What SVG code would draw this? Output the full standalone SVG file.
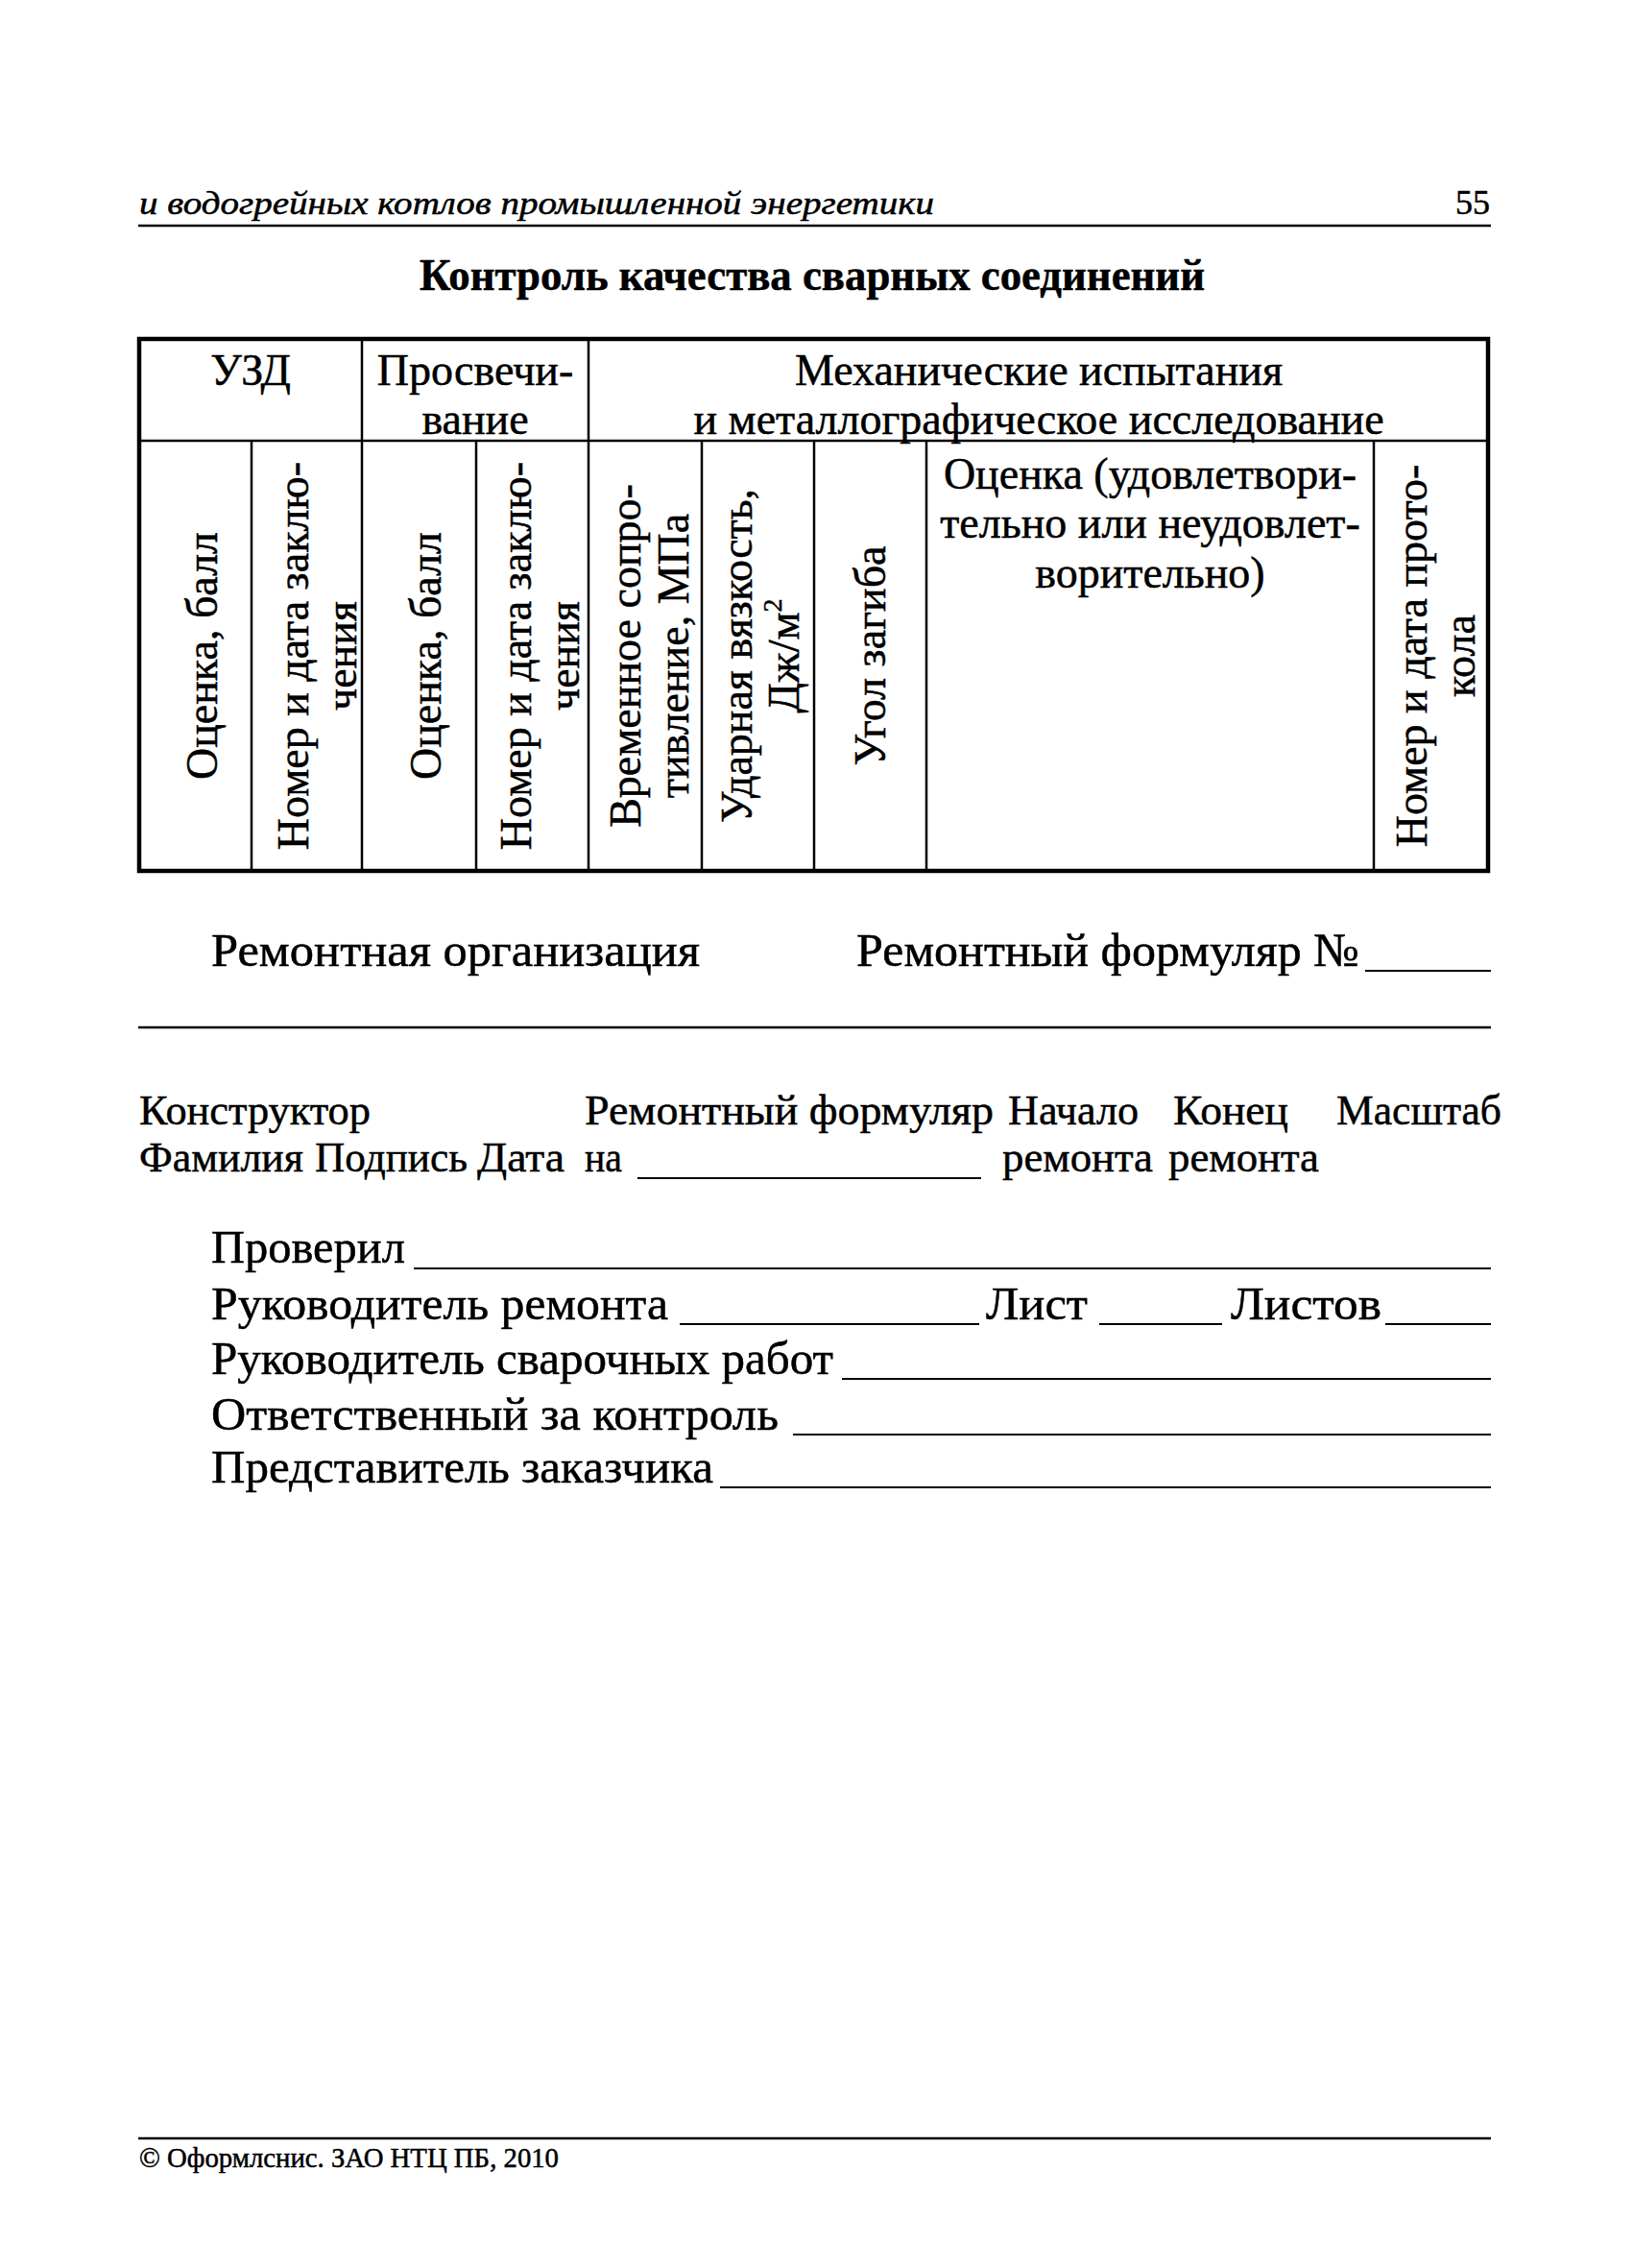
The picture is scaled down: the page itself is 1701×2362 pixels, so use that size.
<svg xmlns="http://www.w3.org/2000/svg" width="1701" height="2362" viewBox="0 0 1701 2362">
<style>
.t{font-family:"Liberation Serif","Times New Roman",serif;fill:#000;stroke:#000;stroke-width:0.5}
.tb{font-size:46px}
.bt{font-size:49.5px}
.sm{font-size:44.5px}
.c{text-anchor:middle}
.ln{stroke:#000;stroke-width:2.5;fill:none}
.th{stroke:#000;stroke-width:4.5;fill:none}
.ul{stroke:#000;stroke-width:2.2;fill:none}
</style>
<rect width="1701" height="2362" fill="#fff"/>
<g id="page-header">
<text class="t" x="145" y="223" font-size="34" font-style="italic" textLength="828" lengthAdjust="spacingAndGlyphs">и водогрейных котлов промышленной энергетики</text>
<text class="t" x="1552" y="223" font-size="36" text-anchor="end">55</text>
<line class="ln" x1="144" y1="235" x2="1553" y2="235"/>
</g>
<g id="title">
<text class="t c" x="846" y="302" font-size="46" font-weight="bold" textLength="818" lengthAdjust="spacingAndGlyphs">Контроль качества сварных соединений</text>
</g>
<g id="table">
<rect class="th" x="145" y="353" width="1405" height="554"/>
<line class="ln" x1="145" y1="459" x2="1550" y2="459"/>
<line class="ln" x1="377" y1="353" x2="377" y2="907"/>
<line class="ln" x1="613" y1="353" x2="613" y2="907"/>
<line class="ln" x1="262" y1="459" x2="262" y2="907"/>
<line class="ln" x1="496" y1="459" x2="496" y2="907"/>
<line class="ln" x1="731" y1="459" x2="731" y2="907"/>
<line class="ln" x1="848" y1="459" x2="848" y2="907"/>
<line class="ln" x1="965" y1="459" x2="965" y2="907"/>
<line class="ln" x1="1431" y1="459" x2="1431" y2="907"/>
<text class="t tb c" x="261" y="401">УЗД</text>
<text class="t tb c" x="495" y="401">Просвечи-</text>
<text class="t tb c" x="495" y="452">вание</text>
<text class="t tb c" x="1082" y="401">Механические испытания</text>
<text class="t tb c" x="1082" y="452">и металлографическое исследование</text>
<text class="t tb c" x="1198" y="509">Оценка (удовлетвори-</text>
<text class="t tb c" x="1198" y="560">тельно или неудовлет-</text>
<text class="t tb c" x="1198" y="612">ворительно)</text>
<text class="t tb c" transform="translate(226,683) rotate(-90)">Оценка, балл</text>
<text class="t tb c" transform="translate(321,683) rotate(-90)">Номер и дата заклю-</text>
<text class="t tb c" transform="translate(371,683) rotate(-90)">чения</text>
<text class="t tb c" transform="translate(459,683) rotate(-90)">Оценка, балл</text>
<text class="t tb c" transform="translate(553,683) rotate(-90)">Номер и дата заклю-</text>
<text class="t tb c" transform="translate(603,683) rotate(-90)">чения</text>
<text class="t tb c" transform="translate(667,683) rotate(-90)">Временное сопро-</text>
<text class="t tb c" transform="translate(717,683) rotate(-90)">тивление, МПа</text>
<text class="t tb c" transform="translate(783,683) rotate(-90)">Ударная вязкость,</text>
<text class="t tb c" transform="translate(832,683) rotate(-90)">Дж/м<tspan font-size="28" dy="-18">2</tspan></text>
<text class="t tb c" transform="translate(922,683) rotate(-90)">Угол загиба</text>
<text class="t tb c" transform="translate(1486,683) rotate(-90)">Номер и дата прото-</text>
<text class="t tb c" transform="translate(1536,683) rotate(-90)">кола</text>
</g>
<g id="repair-org">
<text class="t bt" x="220" y="1006" textLength="509" lengthAdjust="spacingAndGlyphs">Ремонтная организация</text>
<text class="t bt" x="892" y="1006" textLength="524" lengthAdjust="spacingAndGlyphs">Ремонтный формуляр №</text>
<line class="ul" x1="1422" y1="1011" x2="1553" y2="1011"/>
<line class="ln" x1="144" y1="1070" x2="1553" y2="1070"/>
</g>
<g id="designer">
<text class="t sm" x="145" y="1171" textLength="241" lengthAdjust="spacingAndGlyphs">Конструктор</text>
<text class="t sm" x="609" y="1171" textLength="426" lengthAdjust="spacingAndGlyphs">Ремонтный формуляр</text>
<text class="t sm" x="1050" y="1171" textLength="136" lengthAdjust="spacingAndGlyphs">Начало</text>
<text class="t sm" x="1222" y="1171" textLength="120" lengthAdjust="spacingAndGlyphs">Конец</text>
<text class="t sm" x="1392" y="1171" textLength="172" lengthAdjust="spacingAndGlyphs">Масштаб</text>
<text class="t sm" x="145" y="1220" textLength="171" lengthAdjust="spacingAndGlyphs">Фамилия</text>
<text class="t sm" x="328" y="1220" textLength="159" lengthAdjust="spacingAndGlyphs">Подпись</text>
<text class="t sm" x="497" y="1220" textLength="91" lengthAdjust="spacingAndGlyphs">Дата</text>
<text class="t sm" x="609" y="1220" textLength="39" lengthAdjust="spacingAndGlyphs">на</text>
<line class="ul" x1="664" y1="1227" x2="1022" y2="1227"/>
<text class="t sm" x="1044" y="1220" textLength="157" lengthAdjust="spacingAndGlyphs">ремонта</text>
<text class="t sm" x="1217" y="1220" textLength="157" lengthAdjust="spacingAndGlyphs">ремонта</text>
</g>
<g id="signatures">
<text class="t bt" x="220" y="1315" textLength="202" lengthAdjust="spacingAndGlyphs">Проверил</text>
<line class="ul" x1="431" y1="1321" x2="1553" y2="1321"/>
<text class="t bt" x="220" y="1374" textLength="476" lengthAdjust="spacingAndGlyphs">Руководитель ремонта</text>
<line class="ul" x1="708" y1="1379" x2="1020" y2="1379"/>
<text class="t bt" x="1027" y="1374" textLength="106" lengthAdjust="spacingAndGlyphs">Лист</text>
<line class="ul" x1="1145" y1="1379" x2="1273" y2="1379"/>
<text class="t bt" x="1282" y="1374" textLength="157" lengthAdjust="spacingAndGlyphs">Листов</text>
<line class="ul" x1="1443" y1="1379" x2="1553" y2="1379"/>
<text class="t bt" x="220" y="1431" textLength="648" lengthAdjust="spacingAndGlyphs">Руководитель сварочных работ</text>
<line class="ul" x1="877" y1="1436" x2="1553" y2="1436"/>
<text class="t bt" x="220" y="1489" textLength="591" lengthAdjust="spacingAndGlyphs">Ответственный за контроль</text>
<line class="ul" x1="826" y1="1494" x2="1553" y2="1494"/>
<text class="t bt" x="220" y="1544" textLength="523" lengthAdjust="spacingAndGlyphs">Представитель заказчика</text>
<line class="ul" x1="750" y1="1549" x2="1553" y2="1549"/>
</g>
<g id="footer">
<line class="ln" x1="144" y1="2227" x2="1553" y2="2227"/>
<text class="t" x="145" y="2257" font-size="28.5" stroke-width="0.3" textLength="437" lengthAdjust="spacingAndGlyphs">© Оформлснис. ЗАО НТЦ ПБ, 2010</text>
</g>
</svg>
